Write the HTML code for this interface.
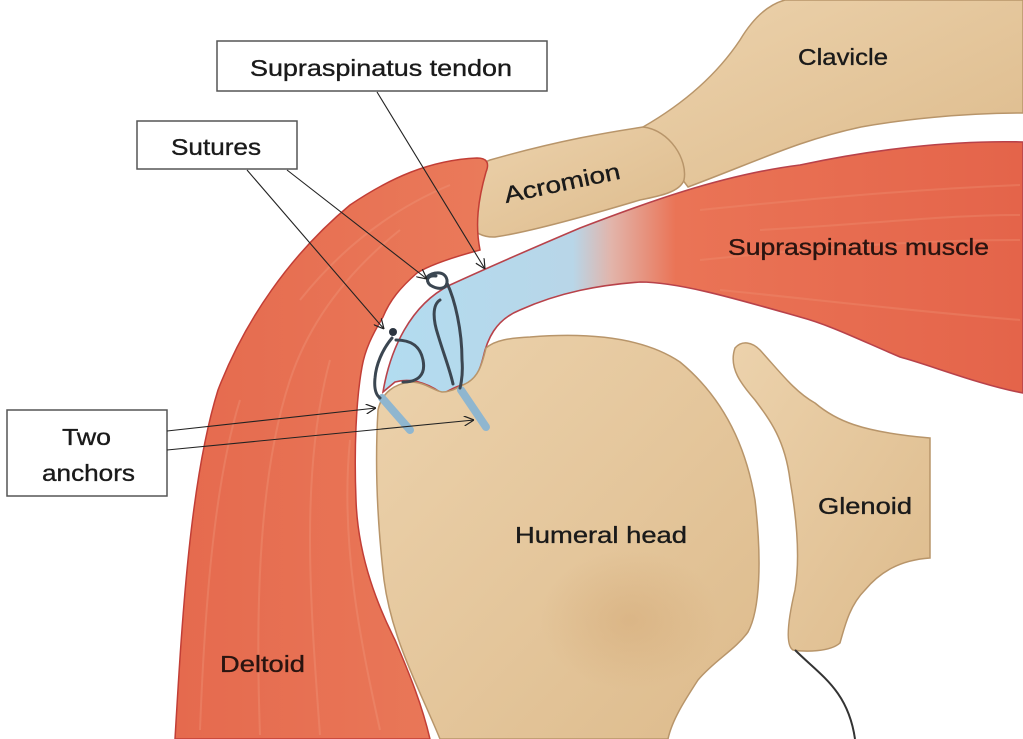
<!DOCTYPE html>
<html><head><meta charset="utf-8"><style>
html,body{margin:0;padding:0;background:#fff;}
svg{display:block;}
text{font-family:"Liberation Sans",sans-serif;fill:#1a1a1a;stroke:#1a1a1a;stroke-width:0.35;}
</style></head><body>
<svg width="1023" height="739" viewBox="0 0 1023 739" xmlns="http://www.w3.org/2000/svg">
<defs>
<linearGradient id="tan" x1="0" y1="0" x2="1" y2="1">
<stop offset="0" stop-color="#ecd2ac"/><stop offset="1" stop-color="#ddbb8c"/></linearGradient>
<radialGradient id="shade" cx="0.5" cy="0.5" r="0.5">
<stop offset="0" stop-color="#d2a673" stop-opacity="0.45"/><stop offset="1" stop-color="#d2a673" stop-opacity="0"/></radialGradient>
<linearGradient id="red" x1="0" y1="0" x2="1" y2="0">
<stop offset="0" stop-color="#e56a4e"/><stop offset="1" stop-color="#ea7a5a"/></linearGradient>
<linearGradient id="sup" x1="380" y1="0" x2="1023" y2="0" gradientUnits="userSpaceOnUse">
<stop offset="0" stop-color="#b2dcf0"/><stop offset="0.3" stop-color="#b8d6e8"/>
<stop offset="0.36" stop-color="#e2b4aa"/><stop offset="0.46" stop-color="#ea7456"/>
<stop offset="1" stop-color="#e4644a"/></linearGradient>
<marker id="ah" viewBox="0 0 10 10" refX="10" refY="5" markerWidth="10" markerHeight="10" orient="auto" markerUnits="userSpaceOnUse">
<path d="M0,0 L10,5 L0,10" fill="none" stroke="#222" stroke-width="1.2"/></marker>
</defs>

<path d="M643,127 C690,100 720,70 740,40 C755,15 770,4 785,0 L1023,0 L1023,113 C960,113 900,120 861,127 C800,140 760,160 688,187 Z" fill="url(#tan)" stroke="#b8956a" stroke-width="1.5"/>
<path d="M490,160 C560,140 610,132 643,127 C670,130 688,160 684,180 C680,192 660,196 640,200 C590,215 530,232 495,237 C470,238 458,215 465,195 C470,175 478,164 490,160 Z" fill="url(#tan)" stroke="#b8956a" stroke-width="1.5"/>

<path d="M383,392 C390,350 410,305 450,285 C500,262 540,245 580,228 C640,205 720,175 800,165 C870,150 950,140 1023,142 L1023,393 C980,385 930,365 900,357 C860,340 830,325 800,317 C740,300 680,282 640,282 C600,285 560,292 520,310 C495,320 487,340 483,358 C478,378 470,385 462,385 C450,388 445,395 440,392 C425,382 410,378 395,382 Z" fill="url(#sup)" stroke="#b8424a" stroke-width="1.6"/>

<path d="M378,410 C382,392 395,384 410,382 C425,382 432,390 442,392 C452,392 458,387 465,384 C478,378 482,365 486,348 C495,340 510,338 530,337 C580,333 640,335 680,362 C720,395 745,440 755,500 C762,560 760,610 748,632 C735,650 715,660 698,680 C685,700 672,720 668,739 L440,739 C420,690 392,640 384,580 C377,520 375,460 378,410 Z" fill="url(#tan)" stroke="#b8956a" stroke-width="1.5"/>
<ellipse cx="630" cy="620" rx="90" ry="70" fill="url(#shade)"/>

<path d="M735,348 C742,340 752,342 760,350 C780,372 795,392 815,403 C835,420 860,432 930,438 L930,558 C900,560 880,572 865,590 C850,605 845,625 840,643 C830,652 805,652 793,650 C785,645 788,620 795,590 C800,560 797,520 790,480 C785,440 770,420 755,400 C742,385 728,368 735,348 Z" fill="url(#tan)" stroke="#b8956a" stroke-width="1.5"/>
<path d="M795,650 C820,675 848,690 855,739" fill="none" stroke="#333" stroke-width="2"/>

<path d="M175,739 C182,620 190,480 218,390 C245,320 290,255 350,205 C390,178 430,160 477,158 C486,158 490,162 486,172 C478,200 475,225 480,250 C450,258 430,265 417,273 C400,288 390,300 383,317 C372,335 365,350 362,367 C356,400 354,450 356,500 C358,560 380,610 395,640 C410,675 422,705 430,739 Z" fill="url(#red)" stroke="#c23e36" stroke-width="1.5"/>
<g stroke="#f19a7e" stroke-width="2" opacity="0.35" fill="none">
<path d="M200,730 C205,600 215,480 240,400"/><path d="M260,735 C255,600 260,470 290,380 C310,320 350,270 400,230"/>
<path d="M320,735 C310,600 300,470 330,360"/><path d="M380,730 C360,640 340,540 350,440"/>
<path d="M300,300 C340,250 390,210 450,185"/>
</g>
<g stroke="#f09274" stroke-width="2" opacity="0.35" fill="none">
<path d="M700,210 C800,200 900,190 1020,185"/><path d="M700,260 C800,250 900,240 1020,240"/>
<path d="M720,290 C820,300 900,310 1020,320"/><path d="M760,230 C860,225 940,215 1020,215"/>
</g>

<line x1="382" y1="398" x2="410" y2="430" stroke="#8fb6cf" stroke-width="8" stroke-linecap="round"/>
<line x1="461" y1="390" x2="486" y2="427" stroke="#8fb6cf" stroke-width="8" stroke-linecap="round"/>

<g fill="none" stroke="#3b4651" stroke-width="3" stroke-linecap="round">
<path d="M427,277 C432,272 445,270 447,280 C448,290 438,290 430,285 C425,280 428,275 436,276"/>
<path d="M447,283 C455,300 462,330 462,360 C463,372 462,380 460,388"/>
<path d="M440,300 C432,305 433,320 438,335 C444,355 450,370 453,384"/>
<path d="M396,340 C410,340 420,345 423,360 C426,375 418,382 403,382"/>
<path d="M392,338 C382,350 376,365 375,378 C374,388 376,395 380,398"/>
</g>
<circle cx="393" cy="332" r="4" fill="#2c3540"/>

<rect x="217" y="41" width="330" height="50" fill="#fff" stroke="#555" stroke-width="1.5"/>
<text x="250" y="76" font-size="23" textLength="262" lengthAdjust="spacingAndGlyphs">Supraspinatus tendon</text>
<rect x="137" y="121" width="160" height="48" fill="#fff" stroke="#555" stroke-width="1.5"/>
<text x="171" y="155" font-size="23" textLength="90" lengthAdjust="spacingAndGlyphs">Sutures</text>
<rect x="7" y="410" width="160" height="86" fill="#fff" stroke="#555" stroke-width="1.5"/>
<text x="62" y="445" font-size="23" textLength="49" lengthAdjust="spacingAndGlyphs">Two</text>
<text x="42" y="481" font-size="23" textLength="93" lengthAdjust="spacingAndGlyphs">anchors</text>

<g stroke="#222" stroke-width="1.1" fill="none" marker-end="url(#ah)">
<line x1="377" y1="92" x2="485" y2="269"/>
<line x1="287" y1="170" x2="427" y2="279"/>
<line x1="247" y1="170" x2="384" y2="329"/>
<line x1="167" y1="431" x2="376" y2="408"/>
<line x1="167" y1="450" x2="474" y2="420"/>
</g>

<text x="798" y="65" font-size="23" textLength="90" lengthAdjust="spacingAndGlyphs">Clavicle</text>
<text x="506" y="203" font-size="23" textLength="118" lengthAdjust="spacingAndGlyphs" transform="rotate(-12 506 203)">Acromion</text>
<text x="728" y="255" font-size="23" textLength="261" lengthAdjust="spacingAndGlyphs" style="fill:#2a1410;stroke:#2a1410">Supraspinatus muscle</text>
<text x="515" y="543" font-size="23" textLength="172" lengthAdjust="spacingAndGlyphs">Humeral head</text>
<text x="818" y="514" font-size="23" textLength="94" lengthAdjust="spacingAndGlyphs">Glenoid</text>
<text x="220" y="672" font-size="23" textLength="85" lengthAdjust="spacingAndGlyphs" style="fill:#2a1410;stroke:#2a1410">Deltoid</text>
</svg>
</body></html>
